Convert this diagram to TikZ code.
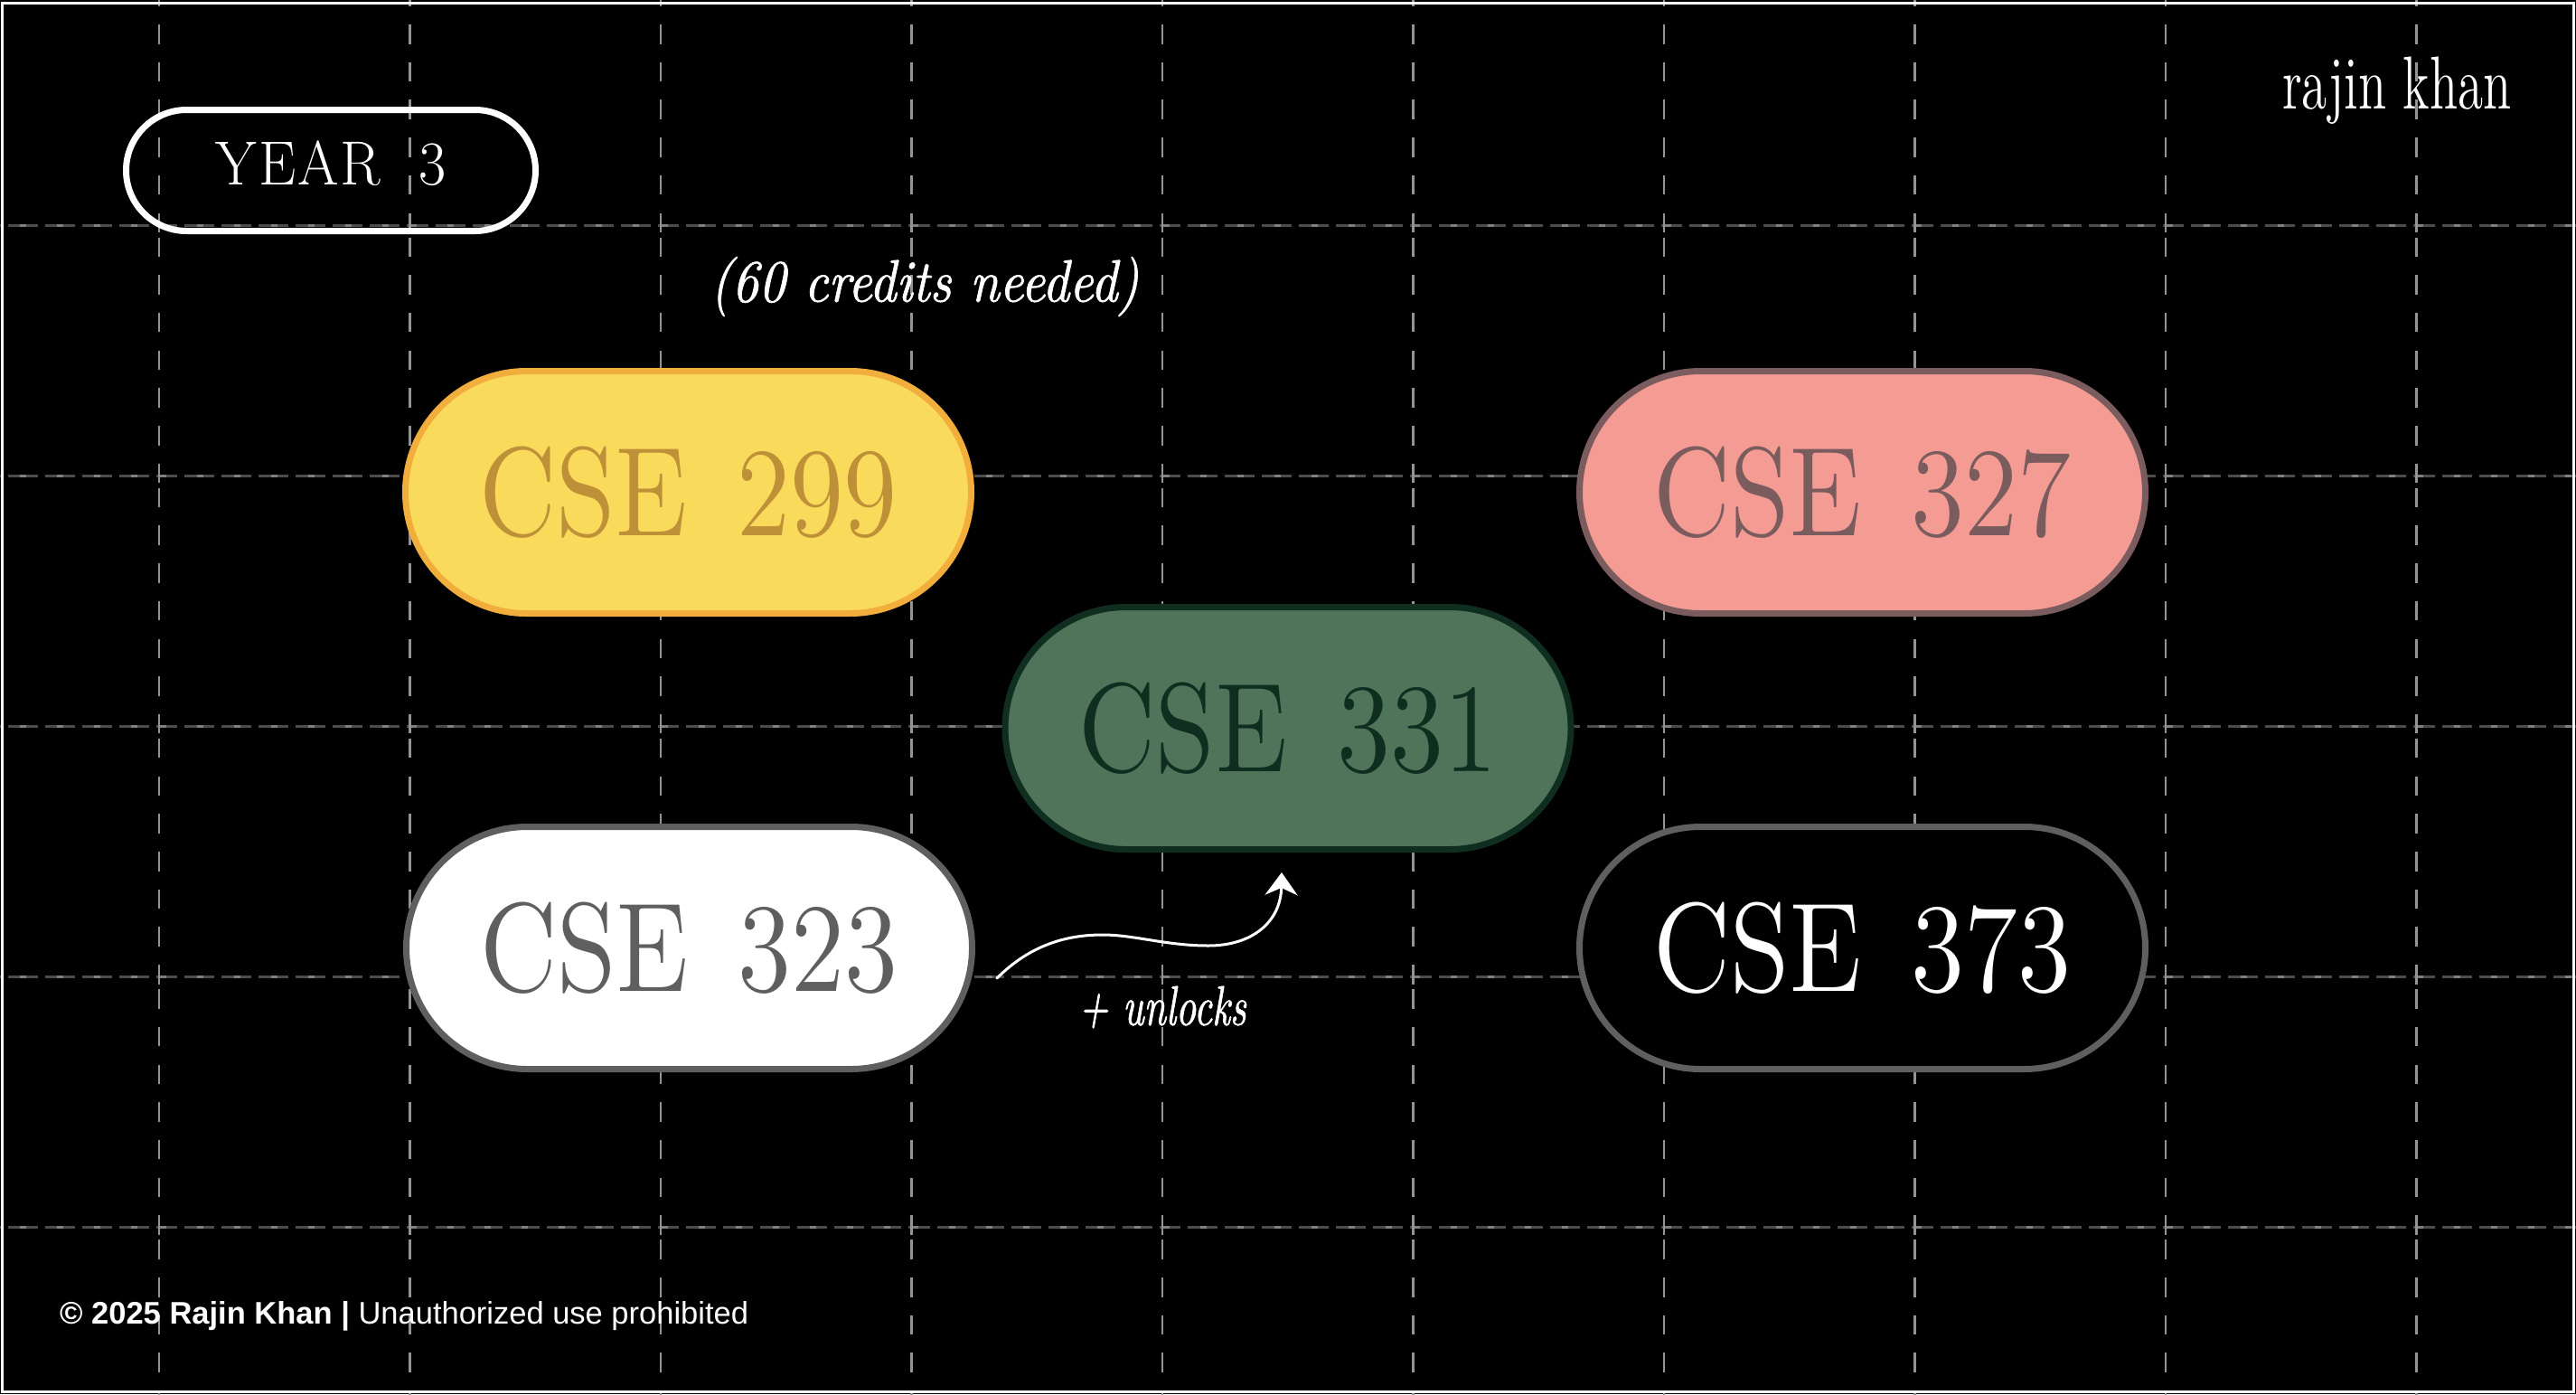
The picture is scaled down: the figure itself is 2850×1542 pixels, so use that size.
\documentclass[tikz,border=0pt]{standalone}
\usepackage{fontspec}
\setmainfont{Liberation Sans}
\newfontfamily\displayfont[FakeStretch=0.86,WordSpace=1.4]{lmroman12-regular.otf}
\newfontfamily\yearfont[FakeStretch=0.95,LetterSpace=3,WordSpace=1.9]{lmroman17-regular.otf}
\newfontfamily\brandfont[FakeStretch=0.69,WordSpace=1.0]{lmroman12-regular.otf}
\newfontfamily\handfont[FakeStretch=0.88,FakeBold=1]{lmroman10-italic.otf}
\newfontfamily\handsmall[FakeStretch=0.7,FakeBold=1]{lmroman10-italic.otf}
\usetikzlibrary{shapes.misc,arrows.meta}
\definecolor{pillyellow}{HTML}{FADA5A}
\definecolor{edgeyellow}{HTML}{F2AE3D}
\definecolor{textyellow}{HTML}{BE9038}
\definecolor{pillpink}{HTML}{F49B93}
\definecolor{edgepink}{HTML}{7A5C5E}
\definecolor{pillgreen}{HTML}{50745A}
\definecolor{edgegreen}{HTML}{0F2E20}
\definecolor{edgegray}{HTML}{5F5F5F}
\tikzset{
  course/.style={rounded rectangle,draw,line width=7pt,minimum width=626pt,minimum height=268pt,inner sep=0pt,
    font=\displayfont\fontsize{140}{140}\selectfont},
  yearbox/.style={rounded rectangle,draw=white,line width=7pt,minimum width=453pt,minimum height=134pt,inner sep=0pt,
    text=white,text depth=16pt,font=\yearfont\fontsize{69}{69}\selectfont},
  gridup/.style={white!58!black,line width=2.2pt,dash pattern=on 21.5pt off 20.2pt},
  gridacross/.style={white!30!black,line width=3pt,dash pattern=on 33pt off 8pt,dash phase=13pt},
  gridspot/.style={white!50!black,line width=3pt,dash pattern=on 7pt off 34pt},
  unlockline/.style={white,line width=3pt,line cap=round,-{Stealth[length=25pt,width=36pt,inset=8pt]}},
}
\begin{document}
\begin{tikzpicture}[x=1pt,y=-1pt]
  \useasboundingbox (0,0) rectangle (2850,1542);
  \fill[black] (0,0) rectangle (2850,1542);
  \foreach \r in {0,...,4} \foreach \c in {-1,...,9} {
    \draw[gridacross] (176+\c*277.5,249+\r*277.2)--(176+\c*277.5+277.5,249+\r*277.2);
    \draw[gridspot] (176.5+\c*277.5,249+\r*277.2)--(176+\c*277.5+277.5,249+\r*277.2);
  }
  \foreach \r in {-1,...,4} \foreach \c in {0,...,9}
    \draw[gridup] (176+\c*277.5,262.5+\r*277.2)--(176+\c*277.5,534.7+\r*277.2);
  \draw[white,line width=3pt] (2.5,3.5) rectangle (2847.5,1539.5);
  \node[yearbox] (year) at (366,188.5) {YEAR 3};
  \node[text=white,inner sep=0pt,font=\handfont\fontsize{66}{66}\selectfont] (credits) at (1023,317) {(60 credits needed)};
  \node[course,fill=pillyellow,draw=edgeyellow,text=textyellow] (cse299) at (761.5,544.5) {CSE 299};
  \node[course,fill=pillpink,draw=edgepink,text=edgepink] (cse327) at (2060.5,544.5) {CSE 327};
  \node[course,fill=pillgreen,draw=edgegreen,text=edgegreen] (cse331) at (1425,805.5) {CSE 331};
  \node[course,fill=white,draw=edgegray,text=edgegray] (cse323) at (762.5,1048.5) {CSE 323};
  \node[course,fill=black,draw=edgegray,text=white] (cse373) at (2060.5,1048.5) {CSE 373};
  \coordinate (unlockfrom) at (1103,1082);
  \coordinate (unlockto) at (1418,965);
  \draw[unlockline] (unlockfrom) .. controls (1140,1045) and (1180,1034) .. (1220,1034)
    .. controls (1255,1034) and (1290,1046) .. (1337,1046)
    .. controls (1385,1046) and (1417,1020) .. (unlockto);
  \node[text=white,inner sep=0pt,font=\handsmall\fontsize{62}{62}\selectfont] (unlocks) at (1286,1114) {+ unlocks};
  \node[text=white,inner sep=0pt,font=\brandfont\fontsize{83}{83}\selectfont] (brand) at (2652,100) {rajin khan};
  \node[text=white,inner sep=0pt,anchor=west,font=\fontsize{34.5}{40}\selectfont] (footer) at (66,1456)
    {\textbf{© 2025 Rajin Khan |} Unauthorized use prohibited};
\end{tikzpicture}
\end{document}
